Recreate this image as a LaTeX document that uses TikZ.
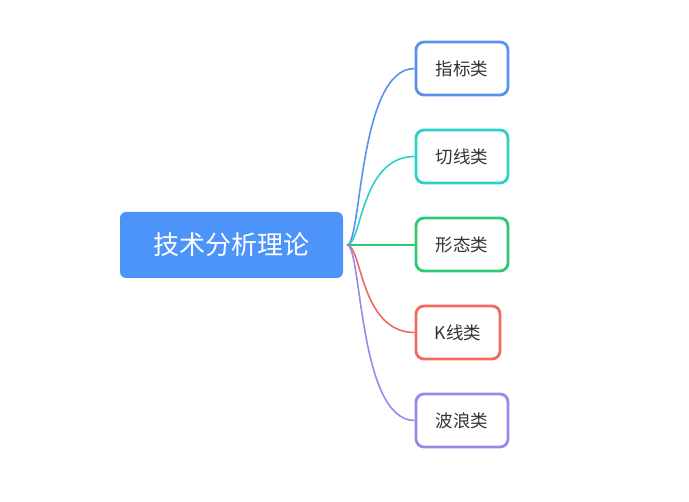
\documentclass[tikz,border=0pt]{standalone}
\usepackage{fontspec}
\newfontfamily\cjk{Noto Sans CJK SC}
\definecolor{rootblue}{HTML}{4D94FA}
\definecolor{cA}{HTML}{5A90F0}
\definecolor{cB}{HTML}{2ECFC5}
\definecolor{cC}{HTML}{2FC874}
\definecolor{cD}{HTML}{F06A5F}
\definecolor{cE}{HTML}{9B88E8}
\definecolor{txt}{HTML}{333333}
\begin{document}
\begin{tikzpicture}[x=1pt,y=-1pt,
  rootbox/.style={fill=rootblue,rounded corners=6pt,minimum width=223pt,minimum height=66pt,inner sep=0pt,text=white,font=\cjk\fontsize{26}{30}\selectfont},
  leaf/.style={draw=#1,line width=2.8pt,fill=white,rounded corners=8pt,minimum height=53pt,inner sep=0pt,text=txt,font=\cjk\fontsize{17.5}{21}\selectfont},
  link/.style={draw=#1,line width=1.6pt}]
\useasboundingbox (0,0) rectangle (689,502);
\node[rootbox] (root) at (231.5,245) {技术分析理论};
\coordinate (s) at (347,245);
\node[leaf=cA,minimum width=92pt] (a) at (462,68.5) {指标类};
\node[leaf=cB,minimum width=92pt] (b) at (462,156.5) {切线类};
\node[leaf=cC,minimum width=92pt] (c) at (462,244.5) {形态类};
\node[leaf=cD,minimum width=84pt] (d) at (458,332.5) {K线类};
\node[leaf=cE,minimum width=92pt] (e) at (462,420.5) {波浪类};
\draw[link=cA] (s) .. controls (362,245) and (358,68.5) .. (a.west);
\draw[link=cB] (s) .. controls (362,245) and (360,156.5) .. (b.west);
\draw[link=cC] (s) -- (c.west |- s);
\draw[link=cD] (s) .. controls (362,245) and (360,332.5) .. (d.west);
\draw[link=cE] (s) .. controls (362,245) and (358,420.5) .. (e.west);
\end{tikzpicture}
\end{document}
